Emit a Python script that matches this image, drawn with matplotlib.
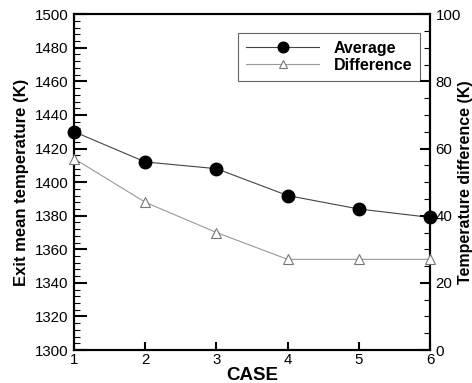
import matplotlib

matplotlib.use("Agg")
import matplotlib.pyplot as plt
from matplotlib.ticker import MultipleLocator

plt.rcParams["font.family"] = ["Liberation Sans", "DejaVu Sans"]

cases = [1, 2, 3, 4, 5, 6]
average = [1430, 1412, 1408, 1392, 1384, 1379]
difference = [57, 44, 35, 27, 27, 27]

fig = plt.figure(figsize=(4.72, 3.83), dpi=100)
ax = fig.add_axes([0.157, 0.086, 0.754, 0.877])
ax2 = ax.twinx()

l1, = ax.plot(cases, average, color="#444444", lw=0.8, marker="o", ms=9,
              mfc="black", mec="black", clip_on=False, zorder=5, label="Average")
l2, = ax2.plot(cases, difference, color="#999999", lw=0.8, marker="^", ms=7,
               mfc="white", mec="#777777", mew=0.8, clip_on=False, zorder=5,
               label="Difference")

ax.set_xlim(1, 6)
ax.set_ylim(1300, 1500)
ax2.set_ylim(0, 100)
ax.set_xticks(cases)
ax.yaxis.set_major_locator(MultipleLocator(20))
ax.yaxis.set_minor_locator(MultipleLocator(4))
ax2.yaxis.set_major_locator(MultipleLocator(20))
ax2.yaxis.set_minor_locator(MultipleLocator(5))

for a in (ax, ax2):
    for s in a.spines.values():
        s.set_linewidth(1.5)

ax.tick_params(axis="y", which="major", direction="in", length=9, width=1.5,
               labelsize=10.8, pad=4)
ax.tick_params(axis="y", which="minor", direction="in", length=4.5, width=0.8)
ax.tick_params(axis="x", which="major", direction="in", length=6, width=1.5,
               labelsize=10.8, pad=2)
ax2.tick_params(axis="y", which="major", direction="in", length=7.5, width=1.5,
                labelsize=10.8, pad=4)
ax2.tick_params(axis="y", which="minor", direction="in", length=4, width=0.8)

ax.set_xlabel("CASE", fontsize=13.5, fontweight="bold", labelpad=0)
ax.set_ylabel("Exit mean temperature (K)", fontsize=12, fontweight="bold",
              labelpad=4)
ax2.set_ylabel("Temperature difference (K)", fontsize=11.5, fontweight="bold")
# keep the right label just inside the figure edge
ax2.yaxis.set_label_coords(1.12, 0.5)
ax2.yaxis.label.set_va("bottom")

leg = ax.legend(handles=[l1, l2], loc="upper left",
                bbox_to_anchor=(238 / 472, 1 - 33 / 383),
                bbox_transform=fig.transFigure, borderaxespad=0,
                fancybox=False, edgecolor="#666666", framealpha=1,
                handlelength=4.6, markerscale=0.85,
                prop={"weight": "bold", "size": 11.5},
                borderpad=0.5, labelspacing=0.1, handletextpad=0.9)
leg.get_frame().set_linewidth(0.8)

fig.savefig("out.png", dpi=100)
